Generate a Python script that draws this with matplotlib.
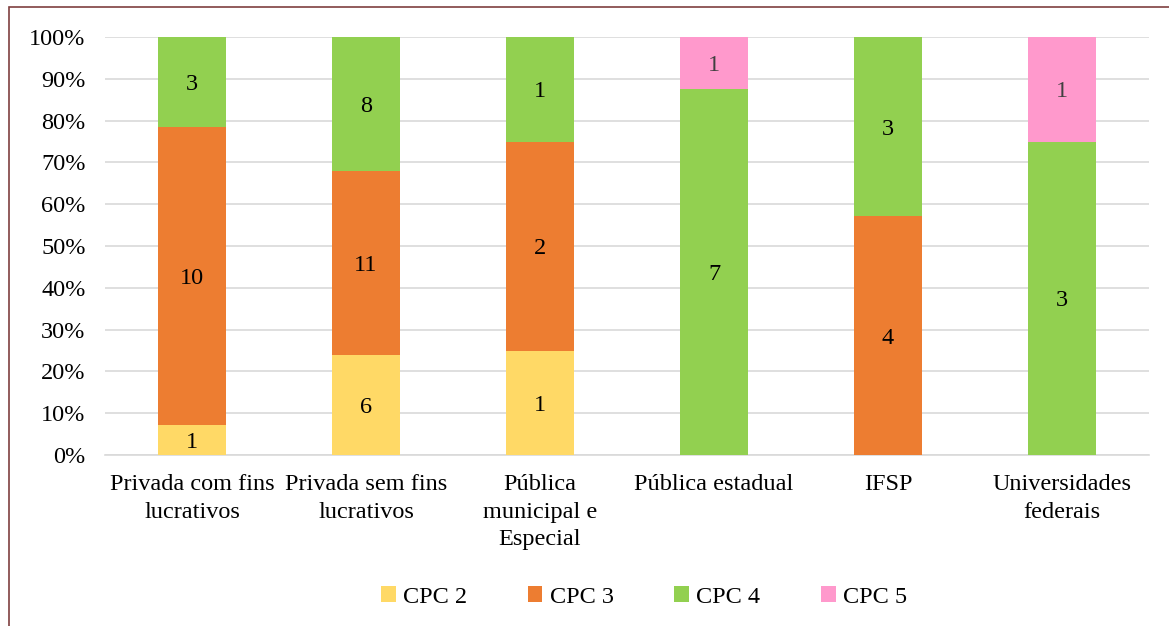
import matplotlib
matplotlib.use("Agg")
import matplotlib.pyplot as plt
from matplotlib.patches import Rectangle
import numpy as np

categories = ["Privada com fins\nlucrativos", "Privada sem fins\nlucrativos",
              "Pública\nmunicipal e\nEspecial", "Pública estadual", "IFSP",
              "Universidades\nfederais"]
series_names = ["CPC 2", "CPC 3", "CPC 4", "CPC 5"]
cpc2 = [1, 6, 1, 0, 0, 0]
cpc3 = [10, 11, 2, 0, 4, 0]
cpc4 = [3, 8, 1, 7, 3, 3]
cpc5 = [0, 0, 0, 1, 0, 1]
colors = ["#FFD966", "#ED7D31", "#92D050", "#FF99CC"]
ytick_labels = ["0%", "10%", "20%", "30%", "40%", "50%", "60%", "70%", "80%", "90%", "100%"]

plt.rcParams['font.family'] = ['Liberation Serif', 'DejaVu Serif']
FS = 17.5

fig = plt.figure(figsize=(11.69, 6.26), dpi=100)
ax = fig.add_axes([105/1169, 1-455/626, 1044/1169, 418/626])

data = np.array([cpc2, cpc3, cpc4, cpc5], dtype=float)
totals = data.sum(axis=0)
pct = data / totals * 100
x = np.arange(len(categories))
bottom = np.zeros(len(categories))
for i, name in enumerate(series_names):
    ax.bar(x, pct[i], 0.39, bottom=bottom, color=colors[i], label=name, zorder=3)
    for j in range(len(categories)):
        if data[i, j] > 0:
            ax.text(x[j], bottom[j] + pct[i, j] / 2, f"{int(data[i, j])}",
                    ha='center', va='center_baseline', fontsize=FS,
                    color='#404040' if i == 3 else 'black', zorder=4)
    bottom += pct[i]

ax.set_xlim(-0.5, len(categories) - 0.5)
ax.set_ylim(0, 100)
ax.set_yticks(np.arange(0, 101, 10))
ax.set_yticklabels(ytick_labels, fontsize=FS)
ax.set_xticks(x)
ax.set_xticklabels(categories, fontsize=FS, linespacing=1.4)
ax.tick_params(axis='both', length=0)
ax.tick_params(axis='y', pad=14)
ax.tick_params(axis='x', pad=14)
ax.grid(axis='y', color='#d9d9d9', linewidth=1.2, zorder=0)
for s in ['top', 'right', 'left']:
    ax.spines[s].set_visible(False)
ax.spines['bottom'].set_color('#d9d9d9')
ax.spines['bottom'].set_linewidth(1.2)

leg = fig.legend(loc='center', bbox_to_anchor=(644/1169, 1-597/626), ncol=4,
                 frameon=False, fontsize=FS, handlelength=0.6, handleheight=0.6,
                 columnspacing=2.5, handletextpad=0.3)

fig.patches.append(Rectangle((9/1169, -0.1), 1.2, 1 - 7/626 + 0.1,
                             transform=fig.transFigure, fill=False,
                             edgecolor='#7f3f3f', linewidth=1.2))

fig.savefig("out.png", dpi=100)
